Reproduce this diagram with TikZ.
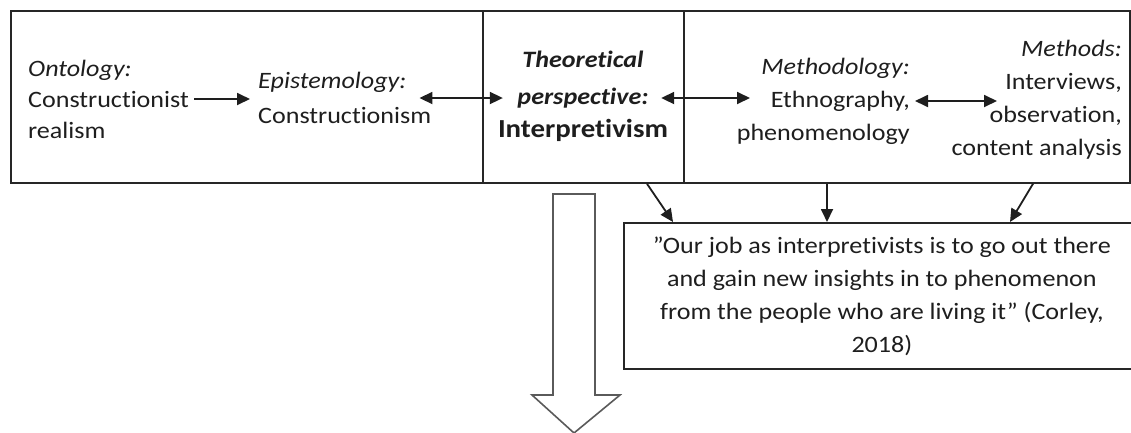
\documentclass[tikz,border=0pt]{standalone}
\usepackage{fontspec}
\setmainfont{Carlito}[FakeStretch=1.11, Ligatures={NoCommon}]
\usetikzlibrary{arrows.meta}

\definecolor{ink}{HTML}{1E1E1E}
\definecolor{framecol}{HTML}{262626}
\definecolor{hollow}{HTML}{5A5A5A}

\tikzset{
  txt/.style={inner sep=0pt, text=ink, font=\fontsize{23.5}{33}\selectfont},
  boxline/.style={draw=framecol, line width=1.8pt},
  arr/.style={draw=ink, line width=1.8pt, -{Triangle[length=13pt,width=12pt]}},
  darr/.style={draw=ink, line width=1.8pt, {Triangle[length=13pt,width=12pt]}-{Triangle[length=13pt,width=12pt]}},
}

\begin{document}
\begin{tikzpicture}[x=1pt,y=-1pt]
\useasboundingbox (0,0) rectangle (1131,432);

% outer frame and the framed middle column
\node[boxline, minimum width=1119pt, minimum height=172pt, anchor=north west, inner sep=0pt] (frame) at (10,10) {};
\node[boxline, minimum width=201pt, minimum height=172pt, anchor=north west, inner sep=0pt] (theobox) at (482,10) {};

% the five levels
\node[txt, anchor=west, align=left, font=\fontsize{23.5}{31}\selectfont] (ont) at (28,99)
  {\textit{Ontology:}\\Constructionist\\realism};
\node[txt, anchor=west, align=left, font=\fontsize{23.5}{35}\selectfont] (epi) at (258,98)
  {\textit{Epistemology:}\\Constructionism};
\node[txt, align=center] (theo) at (583,96)
  {\textbf{\textit{Theoretical}}\\[4pt]\textbf{\textit{perspective:}}\\{\fontsize{26}{30}\selectfont\textbf{Interpretivism}}};
\node[txt, anchor=east, align=right] (meth) at (910,101)
  {\textit{Methodology:}\\Ethnography,\\phenomenology};
\node[txt, anchor=east, align=right] (methods) at (1122,100)
  {\textit{Methods:}\\Interviews,\\observation,\\content analysis};

% quotation box
\node[boxline, minimum width=508pt, minimum height=146pt, anchor=north west, inner sep=0pt] (quote) at (623,222) {};
\node[txt, align=center] (qtext) at ([xshift=4pt]quote.center)
  {”Our job as interpretivists is to go out there\\and gain new insights in to phenomenon\\from the people who are living it” (Corley,\\2018)};

% links between the levels
\draw[arr] ([xshift=5pt]ont.east) -- ([xshift=-8pt]ont.east -| epi.west);
\draw[darr] ([xshift=-12pt]epi.east) -- ([xshift=5pt]epi.east -| theo.west);
\draw[darr] ([xshift=-7pt,yshift=-2pt]theo.east) -- ([xshift=-160pt,yshift=-2pt]theo.east -| meth.east);
\draw[darr] ([xshift=5pt]meth.east) -- ([xshift=-125pt]meth.east -| methods.east);

% links from the frame down to the quotation
\draw[arr] ([xshift=637pt]frame.south west) -- ([xshift=50pt]quote.north west);
\draw[arr] ([xshift=817pt]frame.south west) -- ([xshift=204pt]quote.north west);
\draw[arr] ([xshift=1023pt]frame.south west) -- ([xshift=387pt]quote.north west);

% broad hollow arrow pointing down
\draw[hollow, line width=1.6pt, fill=white, line join=miter]
  (553,194) -- (595,194) -- (595,395) -- (620,395) -- (574,433) -- (532,395) -- (553,395) -- cycle;
\end{tikzpicture}
\end{document}
